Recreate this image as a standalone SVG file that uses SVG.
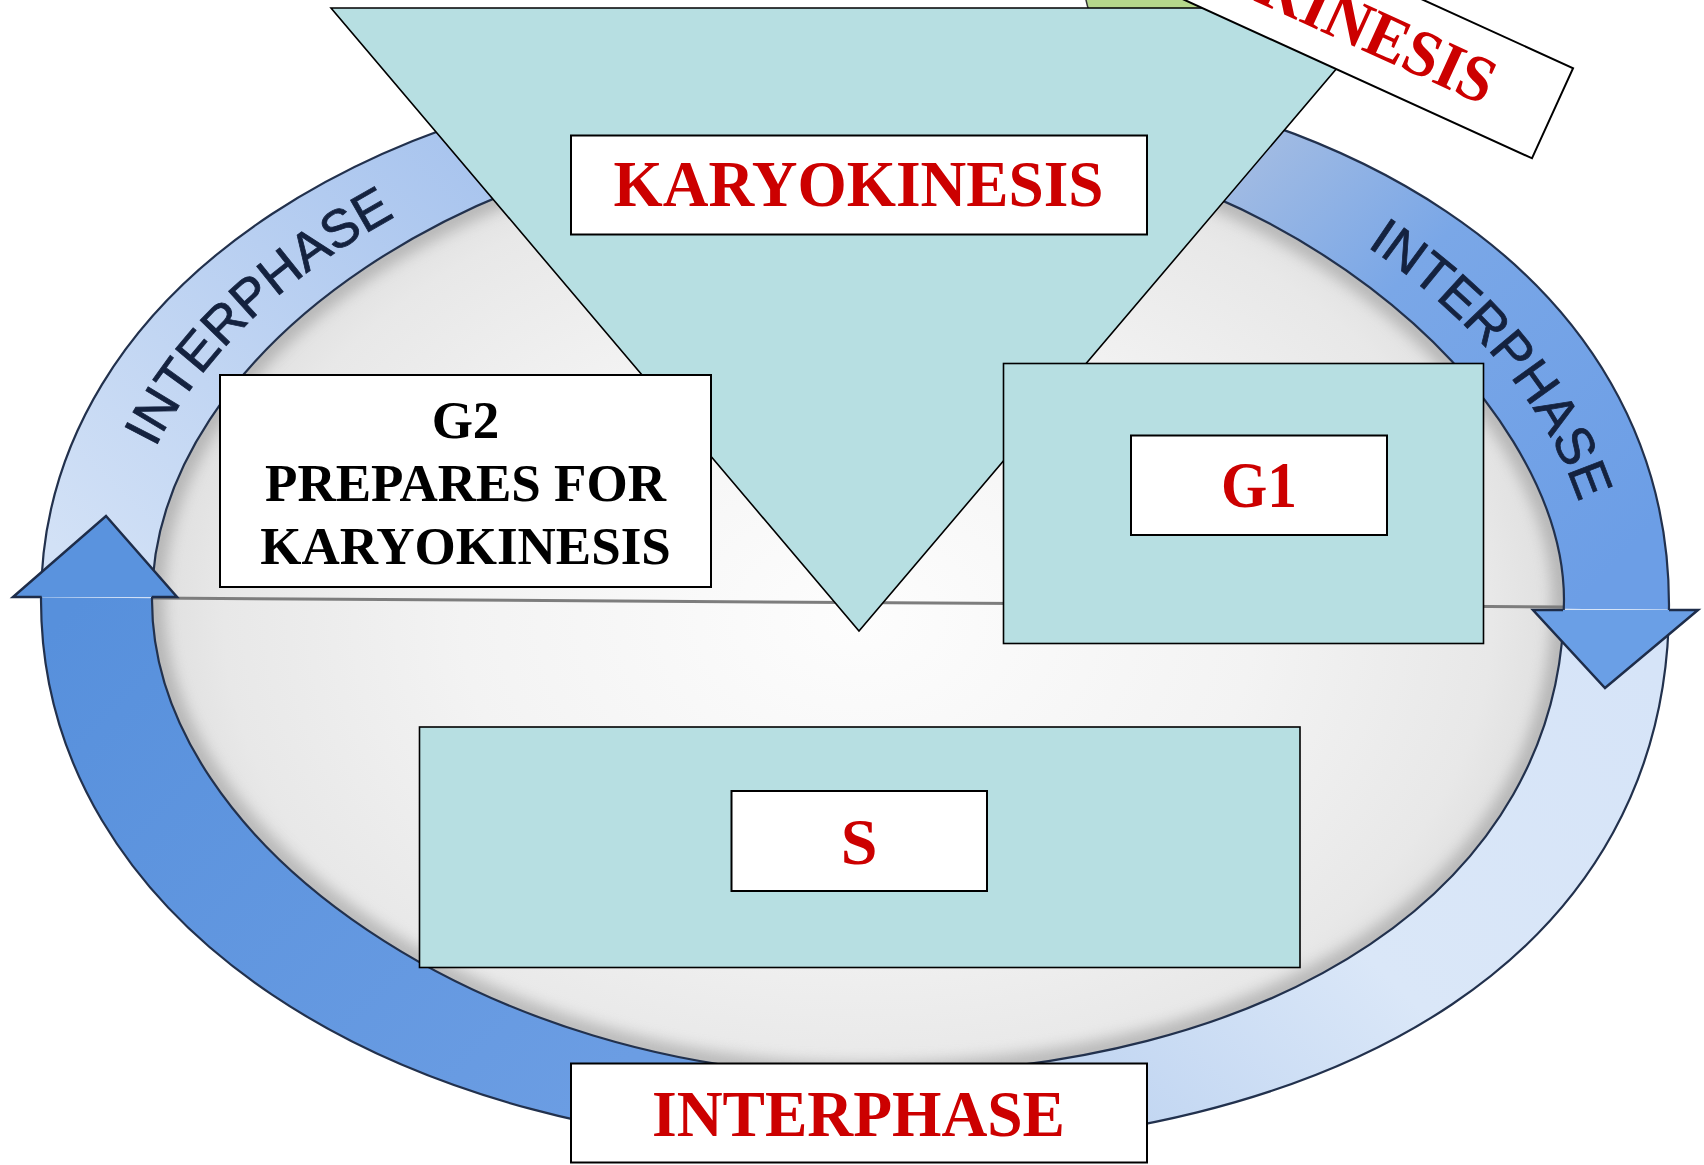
<svg xmlns="http://www.w3.org/2000/svg" width="1704" height="1165" viewBox="0 0 1704 1165">
<style>
.teal{fill:#b7dfe2;stroke:#000;stroke-width:1.6}
.wbox{fill:#fff;stroke:#000;stroke-width:2}
.red{font-family:"Liberation Serif","Times New Roman",serif;font-weight:bold;fill:#cc0000;font-size:66px;text-anchor:middle}
.blk{font-family:"Liberation Serif","Times New Roman",serif;font-weight:bold;fill:#000;font-size:53px;text-anchor:middle}
.arc{font-family:"Liberation Sans",Arial,sans-serif;fill:#14223f;stroke:#14223f;stroke-width:0.8;font-size:53px;text-anchor:middle}
.edge{fill:none;stroke:#22314d;stroke-width:2.2}
.head{stroke:#1e2d4a;stroke-width:2.5;stroke-linejoin:miter}
</style>
<defs>
<path id="outerP" d="M41,600 C41,288 384.4,62 858.5,62 C1344.8,62 1669,279.2 1669,605 C1669,943 1361,1150 858.5,1150 C384.4,1150 41,919 41,600 Z"/>
<path id="innerP" d="M152,600 C152,348.3 484.1,125 858.5,125 C1281.8,125 1564,400.5 1564,600 C1564,885 1281.8,1075 858.5,1075 C491.1,1075 152,847 152,600 Z"/>
<path id="ringP" fill-rule="evenodd" d="M41,600 C41,288 384.4,62 858.5,62 C1344.8,62 1669,279.2 1669,605 C1669,943 1361,1150 858.5,1150 C384.4,1150 41,919 41,600 Z M152,600 C152,348.3 484.1,125 858.5,125 C1281.8,125 1564,400.5 1564,600 C1564,885 1281.8,1075 858.5,1075 C491.1,1075 152,847 152,600 Z"/>
<path id="blL" d="M118.7,600 C118.7,330.2 454.2,106.1 858.5,106.1"/>
<path id="blR" d="M858.5,106.1 C1300.7,106.1 1595.5,364.1 1595.5,601.5"/>
<clipPath id="cUL"><polygon points="0,0 858.5,0 858.5,603.5 0,597"/></clipPath>
<clipPath id="cUR"><polygon points="858.5,0 1704,0 1704,610 858.5,603.5"/></clipPath>
<clipPath id="cLR"><polygon points="858.5,603.5 1704,610 1704,1165 858.5,1165"/></clipPath>
<clipPath id="cLL"><polygon points="0,597 858.5,603.5 858.5,1165 0,1165"/></clipPath>
<clipPath id="cIn"><use href="#innerP"/></clipPath>
<radialGradient id="disc" gradientUnits="userSpaceOnUse" cx="858" cy="620" r="720" gradientTransform="translate(858 620) scale(1 0.72) translate(-858 -620)">
<stop offset="0" stop-color="#fdfdfd"/><stop offset="0.55" stop-color="#f3f3f3"/><stop offset="0.88" stop-color="#e8e8e8"/><stop offset="1" stop-color="#dddddd"/>
</radialGradient>
<linearGradient id="gUL" gradientUnits="userSpaceOnUse" x1="470" y1="140" x2="70" y2="560"><stop offset="0" stop-color="#a8c4ee"/><stop offset="1" stop-color="#d2e1f6"/></linearGradient>
<linearGradient id="gUR" gradientUnits="userSpaceOnUse" x1="1200" y1="150" x2="1620" y2="560"><stop offset="0" stop-color="#a9bfe2"/><stop offset="0.4" stop-color="#7aa7e7"/><stop offset="1" stop-color="#6c9ee6"/></linearGradient>
<linearGradient id="gLR" gradientUnits="userSpaceOnUse" x1="1620" y1="640" x2="1150" y2="1120"><stop offset="0" stop-color="#d6e4f8"/><stop offset="0.6" stop-color="#dae7f8"/><stop offset="1" stop-color="#c3d7f2"/></linearGradient>
<linearGradient id="gLL" gradientUnits="userSpaceOnUse" x1="60" y1="620" x2="570" y2="1120"><stop offset="0" stop-color="#5790dc"/><stop offset="1" stop-color="#6b9de3"/></linearGradient>
<filter id="blur" filterUnits="userSpaceOnUse" x="0" y="0" width="1704" height="1165"><feGaussianBlur stdDeviation="7"/></filter>
</defs>
<rect width="1704" height="1165" fill="#fff"/>
<g id="green-shape"><path d="M1084,-20 C1085,0 1087,5 1090,14 L1330,14 L1330,-20 Z" fill="#b5d78b" stroke="#333" stroke-width="1.5"/></g>
<g id="cell-disc">
<use href="#innerP" fill="url(#disc)"/>
<g clip-path="url(#cIn)"><use href="#innerP" fill="none" stroke="#8f8f8f" stroke-width="24" opacity="0.5" filter="url(#blur)"/></g>
<line x1="150" y1="598" x2="1566" y2="607" stroke="#7d7d7d" stroke-width="3"/>
</g>
<g id="connectors">
<use href="#ringP" fill="url(#gUL)" clip-path="url(#cUL)"/>
<use href="#ringP" fill="url(#gUR)" clip-path="url(#cUR)"/>
<use href="#ringP" fill="url(#gLR)" clip-path="url(#cLR)"/>
<use href="#ringP" fill="url(#gLL)" clip-path="url(#cLL)"/>
<use href="#outerP" class="edge"/>
<use href="#innerP" class="edge"/>
<path class="head" fill="#5a93de" d="M41.7,597 L13,597 L106,516 L177,597 L151.7,597"/>
<path class="head" fill="#6a9fe6" d="M1563,610 L1533,610 L1605,688 L1698,610 L1669,610"/>
<text class="arc"><textPath href="#blL" startOffset="327">INTERPHASE</textPath></text>
<text class="arc"><textPath href="#blR" startOffset="704">INTERPHASE</textPath></text>
</g>
<g id="karyokinesis-triangle">
<polygon class="teal" points="331,8 1388,8 859,631"/>
</g>
<g id="karyokinesis-label">
<rect class="wbox" x="571" y="135.5" width="576" height="99"/>
<text class="red" x="858.5" y="206" textLength="490" lengthAdjust="spacingAndGlyphs">KARYOKINESIS</text>
</g>
<g id="g2">
<rect class="wbox" x="220" y="375" width="491" height="212"/>
<text class="blk" x="465.5" y="438">G2</text>
<text class="blk" x="465.5" y="501">PREPARES FOR</text>
<text class="blk" x="465.5" y="564">KARYOKINESIS</text>
</g>
<g id="g1">
<rect class="teal" x="1003.5" y="363.5" width="480" height="280"/>
<rect class="wbox" x="1131" y="435.5" width="256" height="99.5"/>
<text class="red" x="1259" y="507" textLength="76" lengthAdjust="spacingAndGlyphs">G1</text>
</g>
<g id="s-phase">
<rect class="teal" x="419.5" y="727" width="880.5" height="240.5"/>
<rect class="wbox" x="731.5" y="791" width="255.5" height="100"/>
<text class="red" x="859" y="864">S</text>
</g>
<g id="interphase-label">
<rect class="wbox" x="571" y="1063.5" width="576" height="99"/>
<text class="red" x="858.5" y="1136" textLength="413" lengthAdjust="spacingAndGlyphs">INTERPHASE</text>
</g>
<g id="cytokinesis-label" transform="translate(1532 158.3) rotate(24.5)">
<rect class="wbox" x="-576" y="-99" width="576" height="99"/>
<text class="red" x="-320" y="-28" style="text-anchor:start" textLength="254" lengthAdjust="spacingAndGlyphs">KINESIS</text>
</g>
</svg>
